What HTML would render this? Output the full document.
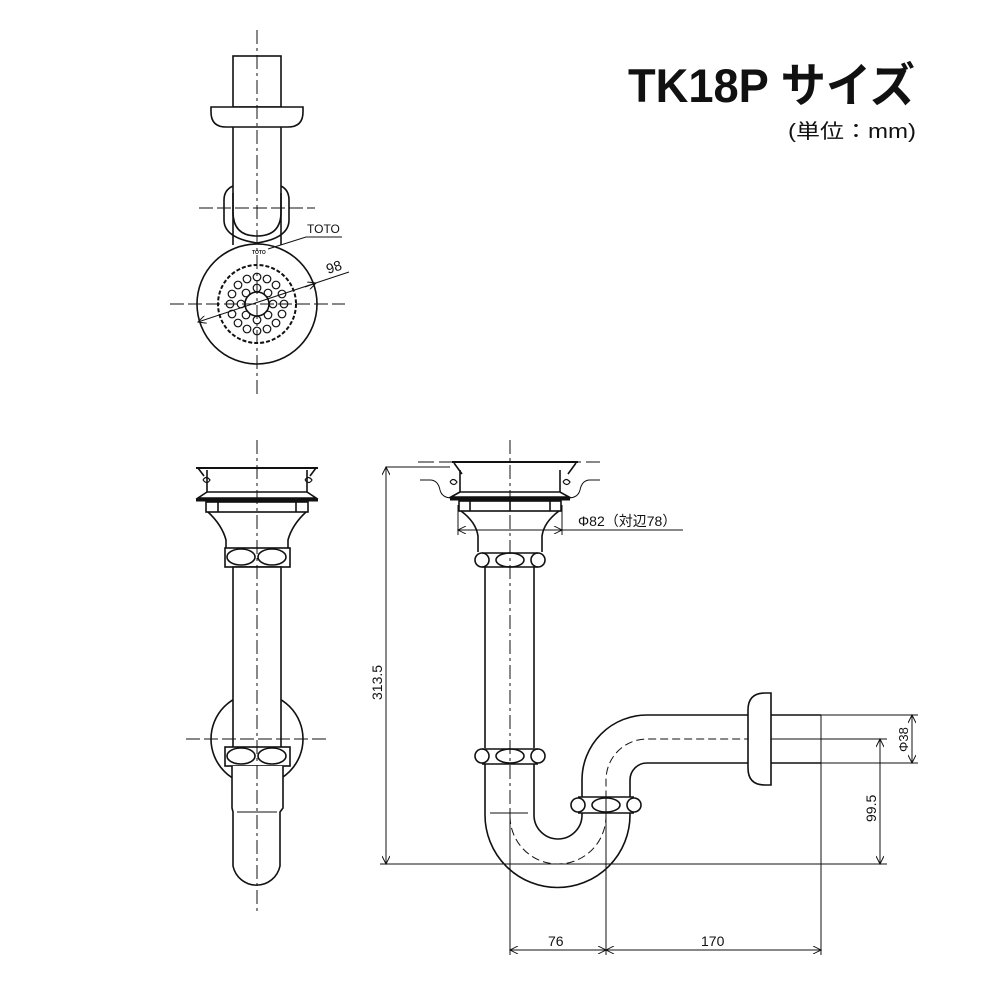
<!DOCTYPE html>
<html><head><meta charset="utf-8"><style>
html,body{margin:0;padding:0;background:#fff;}
svg{display:block;}
text{font-family:"Liberation Sans","Noto Sans CJK JP",sans-serif;}
</style></head><body>
<svg width="1000" height="1000" viewBox="0 0 1000 1000" xmlns="http://www.w3.org/2000/svg">
<rect width="1000" height="1000" fill="#fff"/>
<defs>
<marker id="ar" viewBox="0 0 10 10" refX="10" refY="5" markerWidth="12" markerHeight="8" orient="auto-start-reverse" markerUnits="userSpaceOnUse"><path d="M0,0 L10,5 L0,10" fill="none" stroke="#111" stroke-width="1.2"/></marker>
</defs>
<!-- Title -->
<text x="628" y="102" font-size="47" font-weight="bold" fill="#111" textLength="287" lengthAdjust="spacingAndGlyphs">TK18P サイズ</text>
<text x="788" y="138" font-size="20" fill="#111" textLength="128" lengthAdjust="spacingAndGlyphs">(単位：mm)</text>

<g fill="none" stroke="#111" stroke-width="1.6">
<!-- ===== TOP VIEW ===== -->
<rect x="233" y="56" width="48" height="51" fill="#fff"/>
<path d="M211,107 H303 V112 Q303,127 288,127 H226 Q211,127 211,112 Z" fill="#fff"/>
<line x1="233" y1="127" x2="233" y2="245"/><line x1="281" y1="127" x2="281" y2="245"/>
<path d="M233,186 Q224,190 224,200 V220 Q224,238 257,243 Q289,238 289,220 V200 Q289,190 281,186"/>
<path d="M233,193 V212 Q233,236 257,236 Q281,236 281,212 V193"/>
<circle cx="257" cy="304" r="60" fill="#fff"/>
<circle cx="257" cy="304" r="39" stroke-dasharray="4,2" stroke-width="2"/>
<circle cx="257" cy="304" r="12"/>
<g stroke-width="1.2">
<circle cx="273" cy="304" r="3.8"/><circle cx="241" cy="304" r="3.8"/><circle cx="257" cy="288" r="3.8"/><circle cx="257" cy="320" r="3.8"/>
<circle cx="268" cy="293" r="3.8"/><circle cx="246" cy="293" r="3.8"/><circle cx="268" cy="315" r="3.8"/><circle cx="246" cy="315" r="3.8"/>
<circle cx="284" cy="304" r="3.8"/><circle cx="230" cy="304" r="3.8"/><circle cx="257" cy="277" r="3.8"/><circle cx="257" cy="331" r="3.8"/>
<circle cx="276" cy="285" r="3.8"/><circle cx="238" cy="285" r="3.8"/><circle cx="276" cy="323" r="3.8"/><circle cx="238" cy="323" r="3.8"/>
<circle cx="267" cy="279" r="3.8"/><circle cx="247" cy="279" r="3.8"/><circle cx="267" cy="329" r="3.8"/><circle cx="247" cy="329" r="3.8"/>
<circle cx="282" cy="294" r="3.8"/><circle cx="232" cy="294" r="3.8"/><circle cx="282" cy="314" r="3.8"/><circle cx="232" cy="314" r="3.8"/>
</g>
</g>
<g stroke="#111" stroke-width="1" fill="none">
<line x1="257" y1="30" x2="257" y2="395" stroke-dasharray="14,4,3,4"/>
<line x1="199" y1="208" x2="315" y2="208" stroke-dasharray="14,4"/>
<line x1="170" y1="304" x2="345" y2="304" stroke-dasharray="14,4"/>
<line x1="198" y1="322" x2="349" y2="272" marker-start="url(#ar)"/>
<line x1="305" y1="287" x2="316" y2="283" marker-end="url(#ar)"/>
<polyline points="342,237 306,237 268,249" />
</g>
<text x="307" y="233" font-size="12" fill="#111">TOTO</text>
<text x="252" y="254" font-size="5" font-weight="bold" fill="#111">TOTO</text>
<text x="0" y="0" font-size="14" fill="#111" transform="translate(328,274) rotate(-18)">98</text>

<!-- ===== BOTTOM LEFT ===== -->
<g fill="none" stroke="#111" stroke-width="1.6">
<circle cx="257" cy="739" r="46"/>
<line x1="196" y1="468" x2="318" y2="468" stroke-width="2"/>
<path d="M198,468 L204,476 M316,468 L310,476"/>
<path d="M203,480 q3,-5 7,0 q-3,5 -7,0 M305,480 q3,-5 7,0 q-3,5 -7,0" stroke-width="1.2"/>
<line x1="207" y1="470" x2="207" y2="492"/><line x1="307" y1="470" x2="307" y2="492"/>
<line x1="207" y1="492" x2="307" y2="492"/>
<path d="M207,492 L198,498 L316,498 L307,492" />
<line x1="196" y1="500" x2="318" y2="500" stroke-width="3"/>
<rect x="206" y="502" width="102" height="10" fill="#fff"/>
<line x1="218" y1="502" x2="218" y2="512"/><line x1="296" y1="502" x2="296" y2="512"/>
<path d="M208,512 Q222,525 226,540 V548 M306,512 Q292,525 288,540 V548"/>
<rect x="225" y="548" width="65" height="19" fill="#fff"/>
<ellipse cx="241" cy="557" rx="14" ry="8"/><ellipse cx="272" cy="557" rx="14" ry="8"/>
<rect x="233" y="567" width="48" height="181" fill="#fff"/>
<rect x="225" y="747" width="65" height="19" fill="#fff"/>
<ellipse cx="241" cy="756" rx="14" ry="8"/><ellipse cx="272" cy="756" rx="14" ry="8"/>
<path d="M232,766 V808 L233,812 V866 A24,24 0 0 0 280,866 V812 L283,808 V766" fill="#fff"/>
<line x1="237" y1="812" x2="277" y2="812" stroke-width="1"/>
</g>
<g stroke="#111" stroke-width="1" fill="none">
<line x1="257" y1="440" x2="257" y2="915" stroke-dasharray="14,4,3,4"/>
<line x1="186" y1="739" x2="330" y2="739" stroke-dasharray="14,4"/>
</g>

<!-- ===== RIGHT S-TRAP ===== -->
<g fill="none" stroke="#111" stroke-width="1" >
<line x1="418" y1="462" x2="600" y2="462" stroke-dasharray="16,5"/>
<path d="M420,480 H430 Q438,480 440,490 Q442,498 452,498"/>
<path d="M600,480 H590 Q582,480 580,490 Q578,498 568,498"/>
<line x1="386" y1="467" x2="450" y2="467"/>
<line x1="380" y1="864" x2="887" y2="864"/>
<line x1="386" y1="467" x2="386" y2="864" marker-start="url(#ar)" marker-end="url(#ar)"/>
<line x1="562" y1="530" x2="683" y2="530"/>
<line x1="458" y1="530" x2="562" y2="530" marker-start="url(#ar)" marker-end="url(#ar)"/>
<line x1="458" y1="505" x2="458" y2="535"/><line x1="562" y1="505" x2="562" y2="535"/>
<line x1="510" y1="440" x2="510" y2="810" stroke-dasharray="14,4,3,4"/>
<line x1="510" y1="810" x2="510" y2="955"/>
<line x1="606" y1="797" x2="606" y2="955"/>
<line x1="821" y1="715" x2="821" y2="955"/>
<line x1="510" y1="950" x2="606" y2="950" marker-start="url(#ar)" marker-end="url(#ar)"/>
<line x1="606" y1="950" x2="821" y2="950" marker-start="url(#ar)" marker-end="url(#ar)"/>
<line x1="763" y1="739" x2="887" y2="739"/>
<line x1="880" y1="739" x2="880" y2="864" marker-start="url(#ar)" marker-end="url(#ar)"/>
<line x1="780" y1="715" x2="918" y2="715"/><line x1="780" y1="763" x2="918" y2="763"/>
<line x1="912" y1="715" x2="912" y2="763" marker-start="url(#ar)" marker-end="url(#ar)"/>
<path d="M510,816 A48,48 0 0 0 606,816 V780 A41,41 0 0 1 647,739 H760" stroke-dasharray="8,4"/>
</g>
<g fill="none" stroke="#111" stroke-width="1.6">
<line x1="452" y1="462" x2="578" y2="462" stroke-width="2"/>
<path d="M454,463 L462,474 M576,463 L568,474"/>
<path d="M450,482 q3,-5 7,0 q-3,5 -7,0 M563,482 q3,-5 7,0 q-3,5 -7,0" stroke-width="1.2"/>
<line x1="460" y1="470" x2="460" y2="492"/><line x1="560" y1="470" x2="560" y2="492"/>
<path d="M460,492 L451,497 H569 L560,492 Z"/>
<line x1="450" y1="499" x2="570" y2="499" stroke-width="3"/>
<rect x="459" y="501" width="102" height="10" fill="#fff"/>
<line x1="470" y1="501" x2="470" y2="511"/><line x1="550" y1="501" x2="550" y2="511"/>
<line x1="510" y1="501" x2="510" y2="511"/>
<path d="M461,511 Q476,522 478,536 V552 M559,511 Q544,522 542,536 V552"/>
<path d="M482,553 H538 M482,567 H538"/>
<circle cx="482" cy="560" r="7"/><circle cx="538" cy="560" r="7"/><ellipse cx="510" cy="560" rx="14" ry="7"/>
<line x1="485" y1="567" x2="485" y2="748"/><line x1="534" y1="567" x2="534" y2="748"/>
<path d="M482,749 H538 M482,764 H538"/>
<circle cx="482" cy="756" r="7"/><circle cx="538" cy="756" r="7"/><ellipse cx="510" cy="756" rx="14" ry="7"/>
<path d="M485,764 V815 A72.5,72.5 0 0 0 630,815 V813"/>
<path d="M534,764 V815 A24,24 0 0 0 582,815 V813"/>
<line x1="490" y1="813" x2="528" y2="813" stroke-width="1"/>
<path d="M578,797 H634 M578,813 H634"/>
<circle cx="578" cy="805" r="7"/><circle cx="634" cy="805" r="7"/><ellipse cx="606" cy="805" rx="14" ry="7"/>
<path d="M582,797 V780 A65,65 0 0 1 647,715 H750"/>
<path d="M630,797 V780 A17,17 0 0 1 647,763 H750"/>
<path d="M771,693 V785 H765 Q748,785 748,768 V710 Q748,693 765,693 Z" fill="#fff"/>
<line x1="771" y1="715" x2="821" y2="715"/><line x1="771" y1="763" x2="821" y2="763"/>
</g>
<text x="578" y="526" font-size="14" fill="#111">Φ82（対辺78）</text>
<text x="0" y="0" font-size="14" fill="#111" transform="translate(382,700) rotate(-90)">313.5</text>
<text x="0" y="0" font-size="14" fill="#111" transform="translate(876,822) rotate(-90)">99.5</text>
<text x="0" y="0" font-size="13" fill="#111" transform="translate(908,752) rotate(-90)">Φ38</text>
<text x="548" y="946" font-size="14" fill="#111">76</text>
<text x="701" y="946" font-size="14" fill="#111">170</text>
</svg>
</body></html>
